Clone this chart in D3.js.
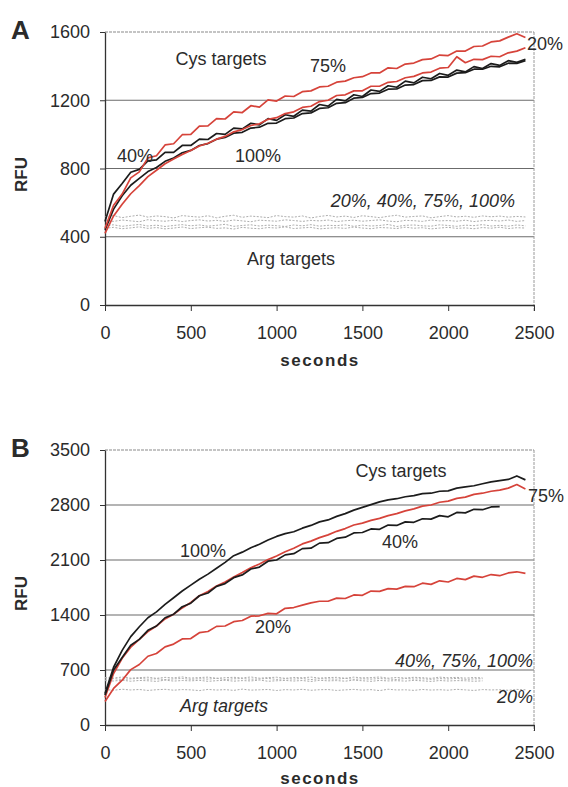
<!DOCTYPE html>
<html>
<head>
<meta charset="utf-8">
<script src="https://cdn.jsdelivr.net/npm/d3@7/dist/d3.min.js"></script>
<style>
body { margin: 0; background: #fff; }
svg text { font-family: "Liberation Sans", Arial, sans-serif; fill: #2b2b2b; }
</style>
</head>
<body>
<svg id="fig" width="568" height="787"></svg>
<script>
/* global d3 */

// time points (seconds), shared by both panels
const times = [0,50,100,150,200,250,300,350,400,450,
	500,550,600,650,700,750,800,850,900,950,
	1000,1050,1100,1150,1200,1250,1300,1350,1400,1450,
	1500,1550,1600,1650,1700,1750,1800,1850,1900,1950,
	2000,2050,2100,2150,2200,2250,2300,2350,2400,2450];

const xTicks = [0, 500, 1000, 1500, 2000, 2500];
const yTicksA = [0, 400, 800, 1200, 1600];
const yTicksB = [0, 700, 1400, 2100, 2800, 3500];

// Panel A - Cys targets
const aRed75 = [450,585,650,745,780,862,875,938,945,998,
	1000,1048,1050,1092,1090,1132,1128,1168,1160,1202,
	1195,1225,1222,1250,1255,1278,1282,1306,1312,1332,
	1338,1360,1360,1390,1386,1412,1418,1438,1442,1465,
	1462,1488,1488,1515,1518,1542,1548,1570,1590,1568];
const aRed20 = [420,522,590,652,700,752,790,828,855,882,
	905,932,948,972,988,1015,1028,1052,1062,1088,
	1098,1122,1132,1158,1165,1192,1200,1228,1232,1255,
	1255,1282,1282,1305,1310,1332,1340,1360,1365,1388,
	1392,1455,1420,1440,1438,1458,1455,1478,1488,1508];
const aBlack40 = [490,650,712,778,795,845,850,895,895,935,
	935,972,970,1005,1000,1037,1032,1065,1056,1092,
	1082,1115,1106,1142,1136,1175,1166,1205,1196,1232,
	1222,1260,1252,1285,1276,1312,1302,1335,1326,1357,
	1346,1377,1366,1397,1386,1415,1404,1432,1422,1440];
const aBlack100 = [440,562,640,702,742,782,806,842,862,892,
	906,935,946,972,982,1007,1012,1037,1042,1065,
	1066,1092,1096,1122,1126,1152,1156,1182,1186,1212,
	1216,1239,1242,1265,1266,1289,1292,1315,1316,1337,
	1336,1359,1362,1382,1382,1399,1396,1417,1416,1432];

// Panel A - Arg targets
const aArg20 = [517,524,512,520,527,515,522,518,510,524,
	519,515,523,511,520,526,514,521,517,512,
	524,518,515,522,510,519,525,516,521,513,
	523,518,512,520,526,515,519,522,511,518,
	524,516,520,514,522,517,521,515,519,516];
const aArg40 = [495,490,498,493,488,500,494,491,497,489,
	495,499,492,496,490,498,493,488,497,494,
	491,499,495,490,496,493,498,489,494,497,
	491,495,499,492,488,496,494,490,498,493,
	495,491,497,489,494,496,492,498,490,495];
const aArg75 = [465,470,461,467,472,463,468,460,466,471,
	464,469,462,467,473,461,466,470,463,468,
	465,460,469,464,471,462,467,465,470,461,
	468,463,466,472,460,467,469,464,462,470,
	466,461,468,465,471,463,467,462,469,464];
const aArg100 = [450,455,447,452,458,449,454,446,451,457,
	448,453,456,449,452,445,455,450,447,454,
	451,458,448,452,455,446,450,453,449,457,
	451,447,454,452,448,456,450,453,446,451,
	455,449,452,447,454,450,456,448,453,451];

// Panel B - Cys targets
const bBlack100 = [400,735,950,1125,1250,1365,1440,1535,1620,1705,
	1780,1855,1920,1995,2070,2155,2200,2255,2300,2355,
	2400,2435,2460,2505,2540,2585,2610,2655,2690,2735,
	2770,2805,2840,2865,2880,2905,2920,2945,2950,2975,
	2980,3015,3030,3045,3070,3095,3110,3125,3170,3120];
const bRed75 = [350,655,850,990,1090,1190,1260,1350,1410,1490,
	1560,1645,1700,1770,1820,1885,1940,2000,2050,2105,
	2150,2205,2250,2305,2340,2385,2420,2465,2500,2545,
	2570,2605,2630,2665,2690,2725,2750,2785,2800,2835,
	2850,2885,2900,2935,2950,2975,2990,3015,3060,3005];
const bBlack40 = [380,700,860,1015,1090,1205,1260,1365,1410,1505,
	1550,1645,1680,1765,1800,1875,1910,1985,2010,2085,
	2100,2165,2180,2245,2250,2315,2320,2375,2390,2445,
	2450,2495,2490,2545,2540,2585,2580,2625,2620,2665,
	2650,2705,2700,2745,2740,2775,2780,null,null,null];
const bRed20 = [300,465,570,705,770,875,910,995,1030,1095,
	1100,1175,1190,1255,1260,1315,1330,1385,1390,1420,
	1415,1485,1495,1525,1555,1575,1575,1615,1610,1655,
	1650,1705,1700,1735,1730,1765,1760,1805,1790,1835,
	1820,1865,1850,1895,1880,1915,1900,1935,1950,1930];

// Panel B - Arg targets
const bArg40 = [605,598,610,596,603,608,594,606,600,612,
	597,604,609,595,602,607,599,611,596,603,
	608,594,605,601,610,597,604,606,595,609,
	600,603,611,596,605,598,607,602,594,609,
	601,606,597,604,599,null,null,null,null,null];
const bArg75 = [585,590,580,588,593,583,589,578,587,592,
	582,589,584,594,579,588,591,583,586,593,
	580,589,585,591,578,590,587,583,594,581,
	588,584,591,586,579,592,585,588,582,590,
	586,593,580,587,589,null,null,null,null,null];
const bArg100 = [565,560,570,557,567,563,555,571,559,566,
	562,568,556,564,569,558,565,561,572,557,
	563,567,560,566,554,569,562,565,558,571,
	563,556,567,561,564,559,568,562,555,566,
	560,565,563,557,562,null,null,null,null,null];
const bArg20 = [450,442,455,446,452,440,449,454,443,451,
	447,438,453,445,450,441,456,444,448,452,
	439,450,446,454,442,449,451,440,447,453,
	444,450,438,455,446,448,441,452,445,449,
	443,454,447,440,451,446,449,442,453,448];

const RED = "#d6433a", BLACK = "#1c1c1c", GRAY = "#adadad";

let svg = d3.select("#fig");

function drawPanel(p) {
	let x = d3.scaleLinear().domain([0, 2500]).range([105, 534]);
	let y = d3.scaleLinear().domain([0, p.yMax]).range([p.bottom, p.top]);
	let g = svg.append("g");

	// gridlines
	g.selectAll(".grid").data(p.yTicks.filter(v => v > 0)).enter()
		.append("line")
		.attr("x1", 105).attr("x2", 534)
		.attr("y1", d => y(d)).attr("y2", d => y(d))
		.attr("stroke", d => d == p.yMax ? "#8a8a8a" : "#6b6b6b")
		.attr("stroke-dasharray", d => d == p.yMax ? "3,1" : null)
		.attr("stroke-width", 1.1);

	// right border
	g.append("line")
		.attr("x1", 534).attr("x2", 534)
		.attr("y1", p.top).attr("y2", p.bottom + 6)
		.attr("stroke", "#9a9a9a").attr("stroke-dasharray", "3,1");

	// axes
	let yAxis = d3.axisLeft(y).tickValues(p.yTicks).tickFormat(d3.format("d"))
		.tickSize(5).tickSizeOuter(0).tickPadding(10);
	let xAxis = d3.axisBottom(x).tickValues(xTicks).tickFormat(d3.format("d"))
		.tickSize(6).tickSizeOuter(0).tickPadding(15);
	let ga = g.append("g").attr("transform", "translate(105,0)").call(yAxis);
	let gb = g.append("g").attr("transform", "translate(0," + p.bottom + ")").call(xAxis);
	[ga, gb].forEach(a => {
		a.selectAll("text").style("font-size", "18px").attr("fill", "#2b2b2b");
		a.selectAll("line").attr("stroke", "#333");
		a.select(".domain").attr("stroke", "#333").attr("stroke-width", 1.3);
	});

	let line = d3.line()
		.defined(d => d[1] != null)
		.x(d => x(d[0]))
		.y(d => y(d[1]));

	// Arg (gray) first, then Cys curves on top
	p.series.forEach(s => {
		g.append("path")
			.attr("d", line(times.map((t, i) => [t, s.vals[i]])))
			.attr("fill", "none")
			.attr("stroke", s.color)
			.attr("stroke-width", s.color == GRAY ? 1 : 1.7)
			.attr("stroke-dasharray", s.color == GRAY ? "2,1.5" : null)
			.attr("stroke-linejoin", "round");
	});

	// labels
	p.labels.forEach(l => {
		g.append("text")
			.attr("x", x(l.t)).attr("y", y(l.v))
			.attr("text-anchor", l.anchor || "start")
			.style("font-size", "18px")
			.style("font-style", l.italic ? "italic" : "normal")
			.text(l.text);
	});

	// panel letter
	svg.append("text").attr("x", 11).attr("y", p.top + 7)
		.style("font-size", "26px").style("font-weight", "bold").attr("fill", "#333")
		.text(p.letter);

	// axis titles
	svg.append("text")
		.attr("transform", "translate(27," + ((p.top + p.bottom) / 2 + 6) + ") rotate(-90)")
		.attr("text-anchor", "middle")
		.style("font-size", "17px").style("font-weight", "bold")
		.text("RFU");
	svg.append("text")
		.attr("x", 320).attr("y", p.titleY)
		.attr("text-anchor", "middle")
		.style("font-size", "17px").style("font-weight", "bold").style("letter-spacing", "1.5px")
		.text("seconds");
}

drawPanel({
	letter: "A", top: 32, bottom: 305, yMax: 1600, yTicks: yTicksA, titleY: 366,
	series: [
		{vals: aArg20, color: GRAY}, {vals: aArg40, color: GRAY},
		{vals: aArg75, color: GRAY}, {vals: aArg100, color: GRAY},
		{vals: aBlack100, color: BLACK}, {vals: aBlack40, color: BLACK},
		{vals: aRed20, color: RED}, {vals: aRed75, color: RED}
	],
	labels: [
		{text: "Cys targets", t: 676, v: 1407, anchor: "middle"},
		{text: "75%", t: 1195, v: 1366},
		{text: "20%", t: 2459, v: 1495},
		{text: "40%", t: 70, v: 838},
		{text: "100%", t: 758, v: 838},
		{text: "20%, 40%, 75%, 100%", t: 2389, v: 574, anchor: "end", italic: true},
		{text: "Arg  targets", t: 828, v: 234}
	]
});

drawPanel({
	letter: "B", top: 450, bottom: 725, yMax: 3500, yTicks: yTicksB, titleY: 784,
	series: [
		{vals: bArg40, color: GRAY}, {vals: bArg75, color: GRAY},
		{vals: bArg100, color: GRAY}, {vals: bArg20, color: GRAY},
		{vals: bRed20, color: RED}, {vals: bRed75, color: RED},
		{vals: bBlack40, color: BLACK}, {vals: bBlack100, color: BLACK}
	],
	labels: [
		{text: "Cys targets", t: 1725, v: 3156, anchor: "middle"},
		{text: "75%", t: 2465, v: 2838},
		{text: "100%", t: 437, v: 2138},
		{text: "40%", t: 1614, v: 2253},
		{text: "20%", t: 874, v: 1171},
		{text: "40%, 75%, 100%", t: 2494, v: 738, anchor: "end", italic: true},
		{text: "20%", t: 2494, v: 280, anchor: "end", italic: true},
		{text: "Arg targets", t: 437, v: 165, italic: true}
	]
});
</script>
</body>
</html>
